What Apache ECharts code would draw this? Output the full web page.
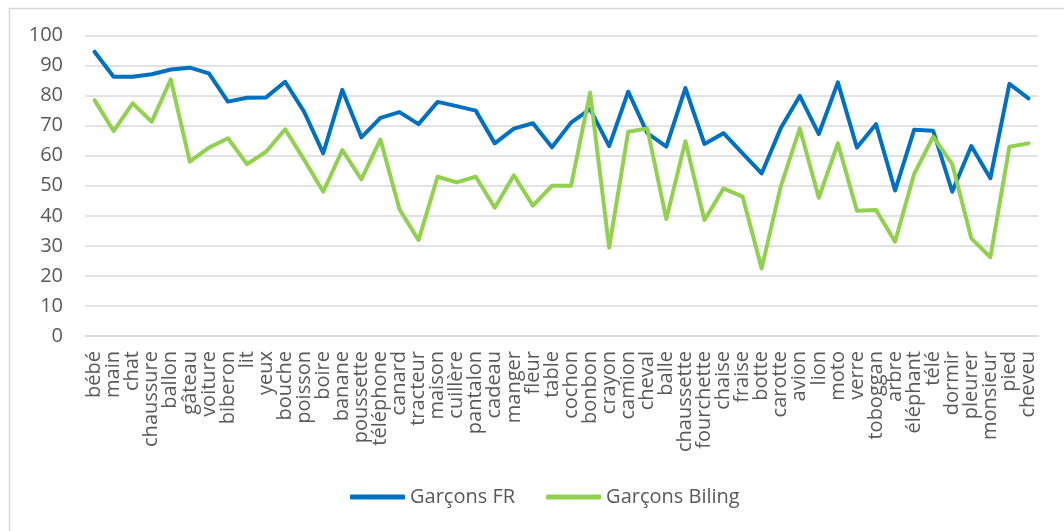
<!DOCTYPE html>
<html>
<head>
<meta charset="utf-8">
<script src="https://cdn.jsdelivr.net/npm/echarts@6/dist/echarts.min.js"></script>
<style>
  html, body { margin: 0; padding: 0; background: #fff; }
  #chart { width: 1064px; height: 531px; }
</style>
</head>
<body>
<div id="chart"></div>
<script>
const words = ['bébé', 'main', 'chat', 'chaussure', 'ballon', 'gâteau', 'voiture', 'biberon', 'lit', 'yeux',
  'bouche', 'poisson', 'boire', 'banane', 'poussette', 'téléphone', 'canard', 'tracteur', 'maison', 'cuillère',
  'pantalon', 'cadeau', 'manger', 'fleur', 'table', 'cochon', 'bonbon', 'crayon', 'camion', 'cheval',
  'balle', 'chaussette', 'fourchette', 'chaise', 'fraise', 'botte', 'carotte', 'avion', 'lion', 'moto',
  'verre', 'toboggan', 'arbre', 'éléphant', 'télé', 'dormir', 'pleurer', 'monsieur', 'pied', 'cheveu'];

const garconsFR = [94.6, 86.3, 86.3, 87.1, 88.7, 89.3, 87.4, 78.0, 79.3, 79.4,
  84.6, 74.6, 60.8, 81.9, 66.1, 72.6, 74.5, 70.5, 77.9, 76.5,
  75.0, 64.1, 69.0, 70.8, 62.8, 71.0, 75.5, 63.2, 81.3, 67.5,
  63.0, 82.5, 63.9, 67.5, 60.8, 54.1, 69.1, 79.9, 67.2, 84.4,
  62.7, 70.5, 48.4, 68.6, 68.3, 48.0, 63.2, 52.5, 83.9, 79.1];

const garconsBiling = [78.5, 68.2, 77.4, 71.3, 85.4, 58.0, 62.7, 65.8, 57.2, 61.3,
  68.8, 58.6, 48.0, 61.9, 52.1, 65.4, 42.2, 31.9, 53.0, 51.1,
  53.0, 42.7, 53.5, 43.4, 50.0, 50.0, 81.0, 29.4, 68.0, 69.1,
  38.9, 64.8, 38.6, 49.1, 46.4, 22.5, 49.7, 69.1, 46.0, 64.1,
  41.7, 41.9, 31.4, 53.9, 66.3, 57.2, 32.5, 26.2, 63.0, 64.1];

const seriesNames = ['Garçons FR', 'Garçons Biling'];
const seriesColors = ['#0070C0', '#92D050'];

const chart = echarts.init(document.getElementById('chart'), null, { renderer: 'canvas' });
const font = '"Open Sans", sans-serif';

chart.setOption({
  animation: false,
  graphic: [{
    type: 'rect',
    shape: { x: 9.5, y: 8.5, width: 1100, height: 600 },
    style: { fill: 'none', stroke: '#d9d9d9', lineWidth: 1.5 },
    silent: true
  }],
  grid: { left: 85, right: 26, top: 35.5, bottom: 195, containLabel: false },
  legend: {
    left: 345,
    top: 482,
    itemWidth: 55,
    itemHeight: 5,
    itemGap: 31,
    icon: 'roundRect',
    textStyle: { color: '#595959', fontSize: 20, fontFamily: font },
    data: seriesNames
  },
  xAxis: {
    type: 'category',
    data: words,
    boundaryGap: true,
    axisLine: { lineStyle: { color: '#d9d9d9', width: 1.5 } },
    axisTick: { show: false },
    axisLabel: {
      interval: 0,
      rotate: 90,
      margin: 15,
      color: '#595959',
      fontSize: 20,
      fontFamily: font
    }
  },
  yAxis: {
    type: 'value',
    min: 0,
    max: 100,
    interval: 10,
    axisLine: { show: false },
    axisTick: { show: false },
    splitLine: { lineStyle: { color: '#d9d9d9', width: 1.5 } },
    axisLabel: { margin: 22, color: '#595959', fontSize: 20, fontFamily: font }
  },
  series: seriesNames.map((name, i) => ({
    name,
    type: 'line',
    data: i === 0 ? garconsFR : garconsBiling,
    symbol: 'none',
    lineStyle: { color: seriesColors[i], width: 4, cap: 'round', join: 'round' },
    itemStyle: { color: seriesColors[i] }
  }))
});
</script>
</body>
</html>
